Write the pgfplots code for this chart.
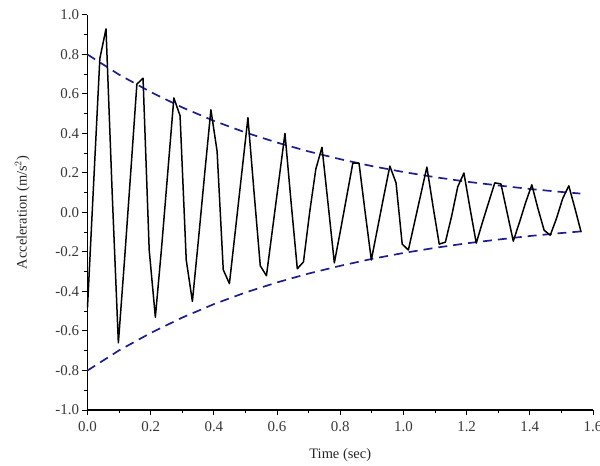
\documentclass[border=0pt]{standalone}
\usepackage{pgfplots}
\pgfplotsset{compat=1.18}
\usepackage{fontspec}
\setmainfont{Liberation Serif}
\definecolor{env}{RGB}{30,30,140}
\begin{document}
\begin{tikzpicture}
\begin{axis}[
  scale only axis,
  width=505.5bp, height=395bp,
  xmin=0, xmax=1.6, ymin=-1.0, ymax=1.0,
  axis x line*=bottom, axis y line*=left,
  axis line style={line width=1.1bp},
  xtick={0,0.2,...,1.6}, ytick={-1,-0.8,...,1.0},
  minor x tick num=1, minor y tick num=1,
  tick align=outside,
  major tick length=5bp, minor tick length=3bp,
  tick style={line width=1bp, black},
  /pgf/number format/assume math mode=true,
  /pgf/number format/.cd, fixed, fixed zerofill, precision=1,
  /tikz/.cd,
  tick label style={font=\fontsize{15}{17}\selectfont, text=black!78},
  xticklabel style={yshift=-3bp},
  label style={font=\fontsize{14.5}{17}\selectfont, text=black!85},
  xlabel={Time (sec)},
  ylabel={Acceleration (m/s$^{2}$)},
  xlabel style={at={(axis description cs:0.5,-0.114)}, anchor=center},
  ylabel style={at={(axis description cs:-0.129,0.5)}, anchor=center},
  clip=false,
]
\addplot[env, dashed, dash pattern=on 9bp off 6bp, line width=1.7bp] coordinates {
(0,0.800) (0.1,0.698) (0.2,0.610) (0.3,0.532) (0.4,0.464) (0.5,0.405)
(0.6,0.354) (0.7,0.309) (0.8,0.270) (0.9,0.235) (1.0,0.205) (1.1,0.179)
(1.2,0.156) (1.3,0.137) (1.4,0.119) (1.5,0.104) (1.56,0.096)};
\addplot[env, dashed, dash pattern=on 9bp off 6bp, line width=1.7bp] coordinates {
(0,-0.800) (0.1,-0.698) (0.2,-0.610) (0.3,-0.532) (0.4,-0.464) (0.5,-0.405)
(0.6,-0.354) (0.7,-0.309) (0.8,-0.270) (0.9,-0.235) (1.0,-0.205) (1.1,-0.179)
(1.2,-0.156) (1.3,-0.137) (1.4,-0.119) (1.5,-0.104) (1.56,-0.096)};
\addplot[black, line width=1.5bp, line join=round] coordinates {
(0.0000,-0.48) (0.0195,0.15) (0.0391,0.78) (0.0586,0.93) (0.0781,0.10)
(0.0977,-0.66) (0.1172,-0.24) (0.1367,0.20) (0.1563,0.65) (0.1758,0.68)
(0.1953,-0.19) (0.2148,-0.53) (0.2344,-0.18) (0.2539,0.20) (0.2734,0.58)
(0.2930,0.49) (0.3125,-0.24) (0.3320,-0.45) (0.3516,-0.13) (0.3711,0.20)
(0.3906,0.52) (0.4102,0.31) (0.4297,-0.29) (0.4492,-0.36) (0.4688,-0.08)
(0.4883,0.20) (0.5078,0.48) (0.5273,0.10) (0.5469,-0.27) (0.5664,-0.32)
(0.5859,-0.08) (0.6055,0.16) (0.6250,0.40) (0.6445,0.05) (0.6641,-0.285)
(0.6836,-0.25) (0.7031,0.00) (0.7227,0.22) (0.7422,0.33) (0.7617,0.04)
(0.7813,-0.255) (0.8008,-0.09) (0.8203,0.08) (0.8398,0.25) (0.8594,0.25)
(0.8789,0.00) (0.8984,-0.24) (0.9180,-0.08) (0.9375,0.08) (0.9570,0.235)
(0.9766,0.15) (0.9961,-0.16) (1.0156,-0.19) (1.0352,-0.05) (1.0547,0.09)
(1.0742,0.23) (1.0938,0.03) (1.1133,-0.16) (1.1328,-0.15) (1.1523,-0.02)
(1.1719,0.13) (1.1914,0.20) (1.2109,0.02) (1.2305,-0.155) (1.2500,-0.05)
(1.2695,0.05) (1.2891,0.15) (1.3086,0.145) (1.3281,0.00) (1.3477,-0.145)
(1.3672,-0.05) (1.3867,0.05) (1.4063,0.14) (1.4258,0.02) (1.4453,-0.09)
(1.4648,-0.115) (1.4844,-0.03) (1.5039,0.07) (1.5234,0.135) (1.5430,0.02)
(1.5625,-0.10)};
\coordinate (sw) at (rel axis cs:0,0);
\coordinate (ne) at (rel axis cs:1,1);
\end{axis}
\pgfresetboundingbox
\path[use as bounding box] ([xshift=-87.5bp,yshift=-56bp]sw) rectangle ([xshift=7bp,yshift=15bp]ne);
\end{tikzpicture}
\end{document}
